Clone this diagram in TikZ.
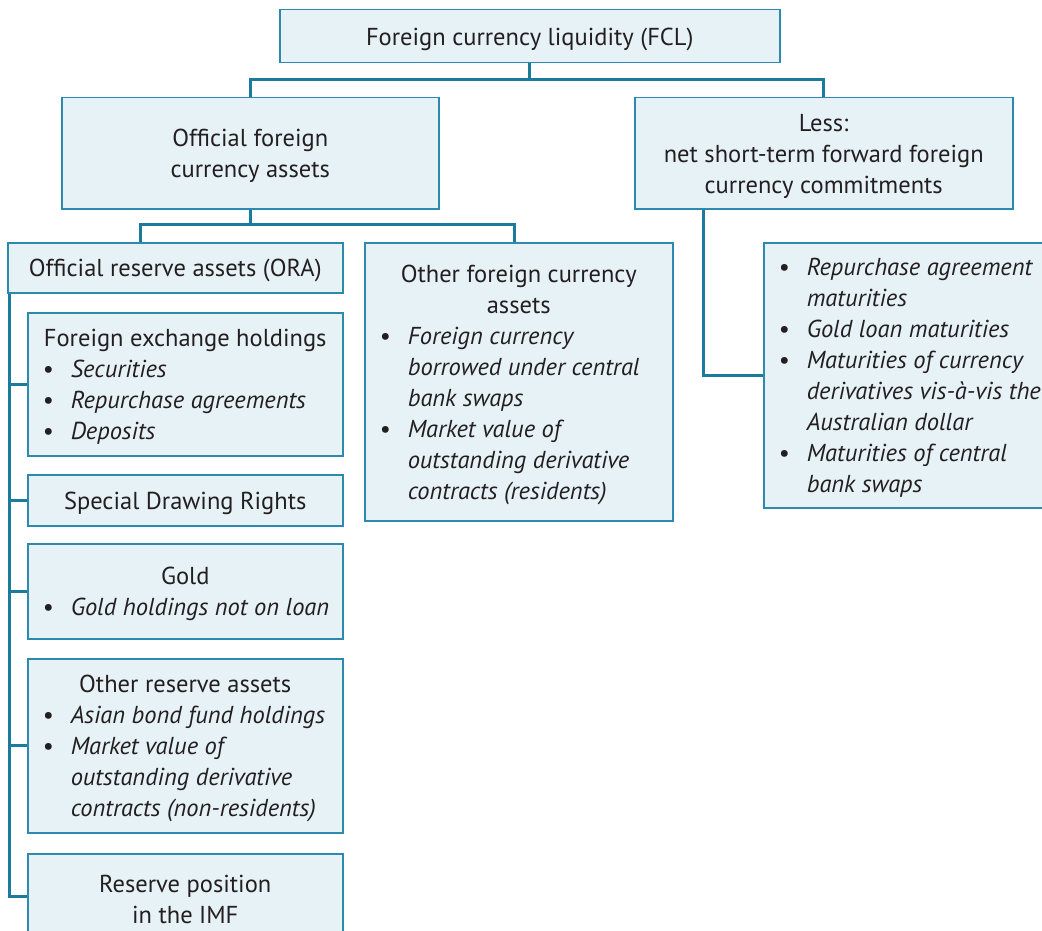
\documentclass[tikz,border=0pt]{standalone}
\usepackage{fontspec}
\setmainfont{PT Sans}
\definecolor{lineblue}{HTML}{1A7B9C}
\definecolor{boxborder}{HTML}{2D8AAE}
\definecolor{boxfill}{HTML}{E7F2F7}
\definecolor{txt}{HTML}{231F20}
\newcommand{\bl}[1]{\hspace*{15pt}\makebox[28pt][l]{\textbullet}\textit{#1}}
\newcommand{\cl}[1]{\hspace*{43pt}\textit{#1}}
\newcommand{\bx}[2]{\raisebox{-3pt}[\height][\depth]{\parbox{#1}{#2}}}
\begin{document}
\begin{tikzpicture}[x=1pt,y=-1pt,
  box/.style={draw=boxborder, fill=boxfill, line width=1.5pt, inner sep=0pt,
    anchor=north west, text=txt, font=\fontsize{24.5}{31}\selectfont},
  conn/.style={draw=lineblue, line width=3pt}]
\useasboundingbox (0,0) rectangle (1042,931);
% boxes
\node[box, minimum width=500, minimum height=53] (fcl) at (279,9)
  {\bx{500pt}{\centering Foreign currency liquidity (FCL)}};
\node[box, minimum width=377, minimum height=111] (ofca) at (61,97)
  {\bx{377pt}{\centering Official foreign\\currency assets}};
\node[box, minimum width=378, minimum height=111] (less) at (634,97)
  {\bx{378pt}{\centering Less:\\net short-term forward foreign\\currency commitments}};
\node[box, minimum width=335, minimum height=50] (ora) at (7,242)
  {\bx{335pt}{\centering Official reserve assets (ORA)}};
\node[box, minimum width=308, minimum height=278] (ofa) at (364,242)
  {\bx{308pt}{\centering Other foreign currency\\assets\par\raggedright
   \bl{Foreign currency}\\\cl{borrowed under central}\\\cl{bank swaps}\\
   \bl{Market value of}\\\cl{outstanding derivative}\\\cl{contracts (residents)}\par}};
\node[box, minimum width=315, minimum height=143] (fx) at (27,312)
  {\bx{315pt}{\centering Foreign exchange holdings\par\raggedright
   \bl{Securities}\\\bl{Repurchase agreements}\\\bl{Deposits}\par}};
\node[box, minimum width=315, minimum height=51] (sdr) at (27,474)
  {\bx{315pt}{\centering Special Drawing Rights}};
\node[box, minimum width=315, minimum height=95] (gold) at (27,543)
  {\bx{315pt}{\centering Gold\par\raggedright
   \bl{Gold holdings not on loan}\par}};
\node[box, minimum width=315, minimum height=174] (ores) at (27,658)
  {\bx{315pt}{\centering Other reserve assets\par\raggedright
   \bl{Asian bond fund holdings}\\\bl{Market value of}\\\cl{outstanding derivative}\\\cl{contracts (non-residents)}\par}};
\node[box, minimum width=315, minimum height=85] (imf) at (27,853)
  {\bx{315pt}{\centering Reserve position\\in the IMF}};
\node[box, minimum width=285, minimum height=265] (rl) at (763,242)
  {\bx{285pt}{\raggedright
   \bl{Repurchase agreement}\\\cl{maturities}\\\bl{Gold loan maturities}\\
   \bl{Maturities of currency}\\\cl{derivatives vis-à-vis the}\\\cl{Australian dollar}\\
   \bl{Maturities of central}\\\cl{bank swaps}\par}};
% helper coordinates
\coordinate (bus1) at (0,80);
\coordinate (bus2) at (0,224);
\coordinate (c140) at (140,0);
\coordinate (c514) at (514,0);
\coordinate (c703) at (703,0);
\coordinate (sp) at (9,0);
% connectors
\draw[conn] (fcl.south) -- (fcl.south |- bus1);
\draw[conn] (ofca.north) -- (ofca.north |- bus1) -- (less.north |- bus1) -- (less.north);
\draw[conn] (ofca.south) -- (ofca.south |- bus2);
\draw[conn] (ora.north -| c140) -- (c140 |- bus2) -- (c514 |- bus2) -- (ofa.north -| c514);
\draw[conn] (ora.south -| sp) |- (imf.west);
\draw[conn] (fx.west) -- (fx.west -| sp);
\draw[conn] (sdr.west) -- (sdr.west -| sp);
\draw[conn] (gold.west) -- (gold.west -| sp);
\draw[conn] (ores.west) -- (ores.west -| sp);
\draw[conn] (less.south -| c703) |- (rl.west);
\end{tikzpicture}
\end{document}
